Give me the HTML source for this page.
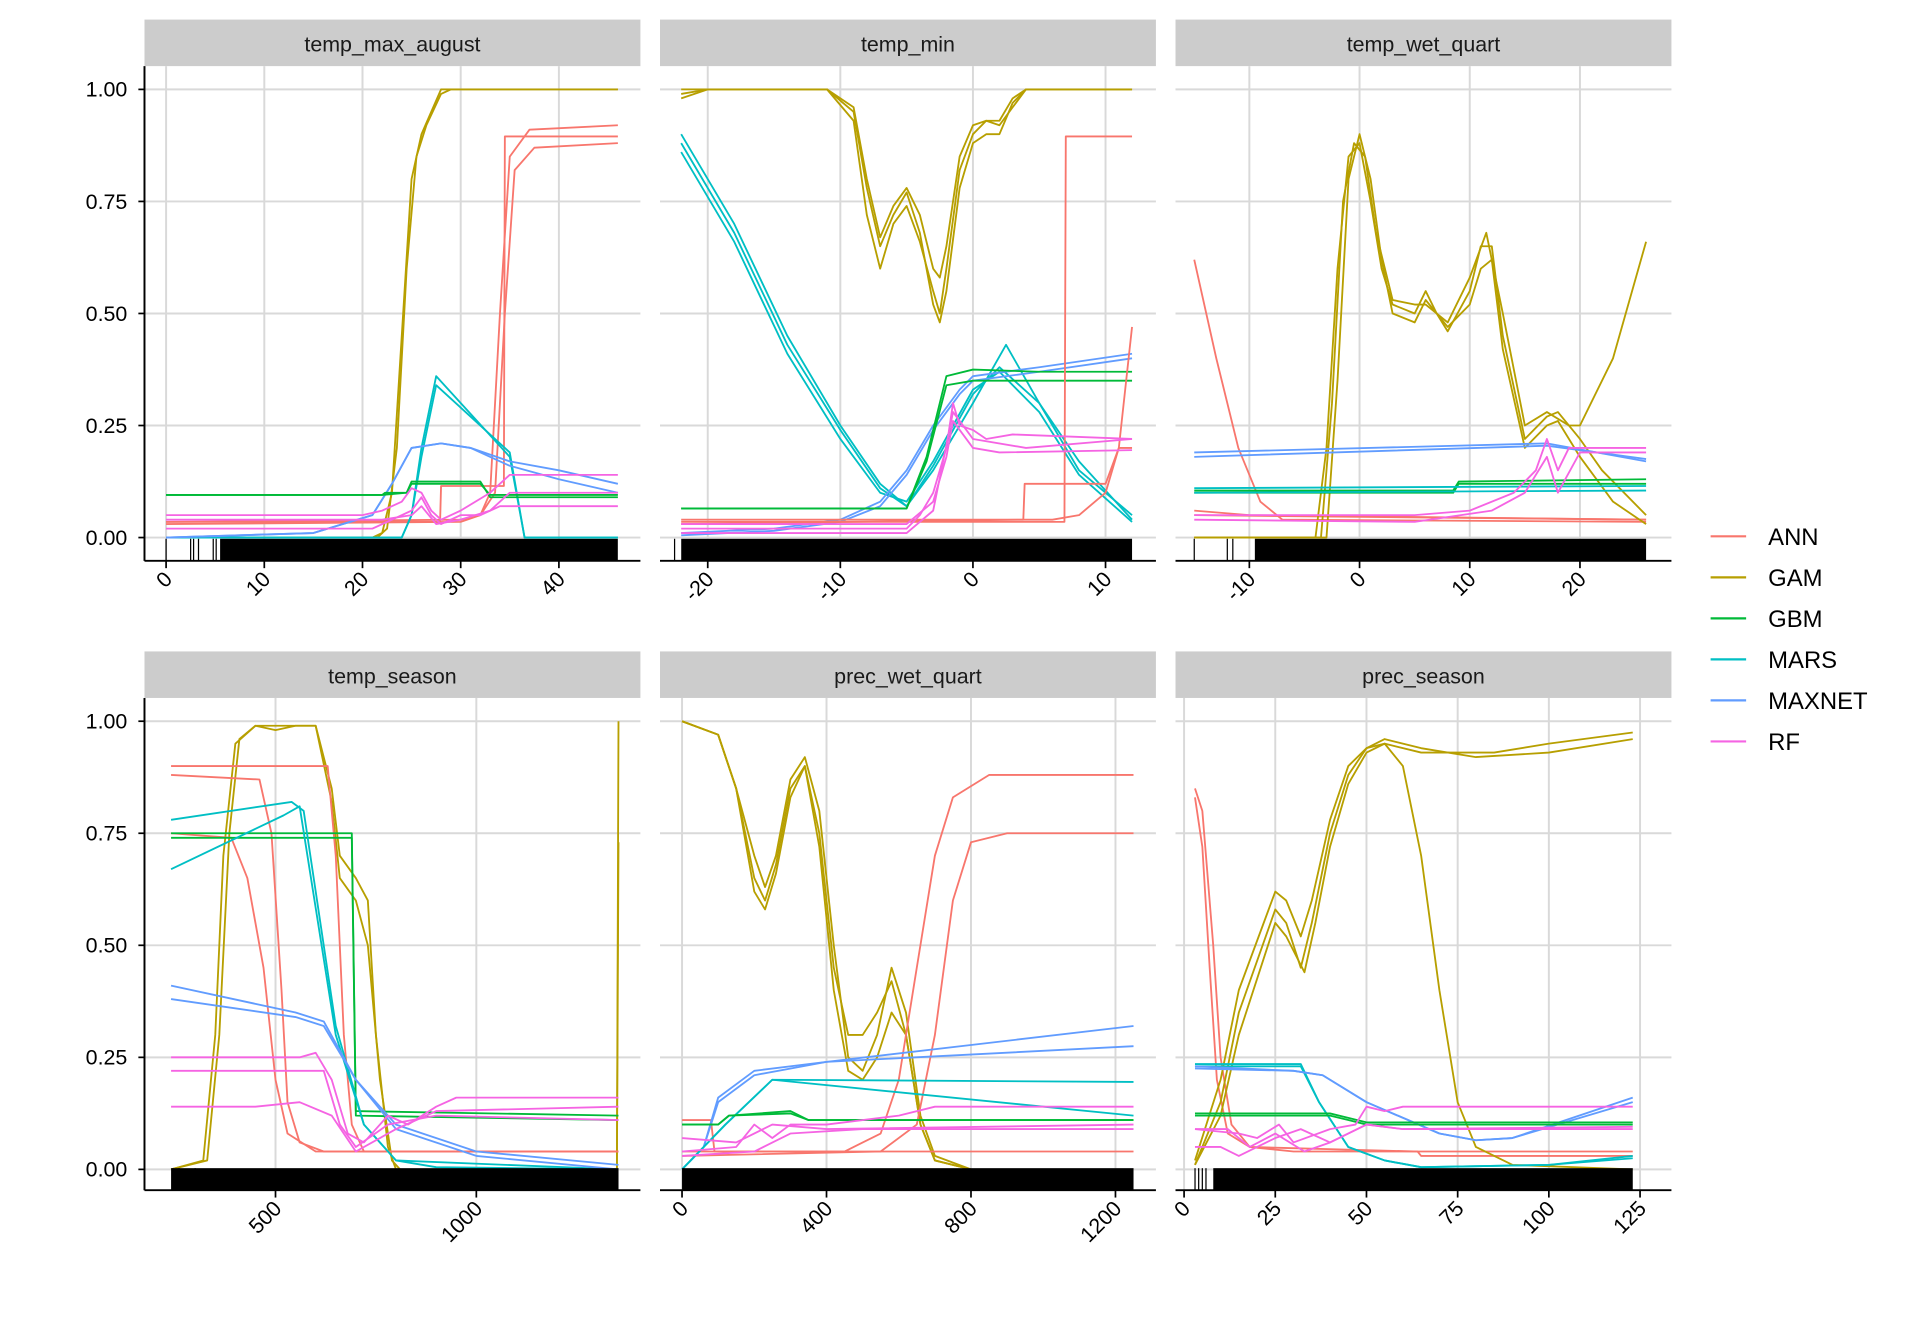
<!DOCTYPE html>
<html><head><meta charset="utf-8"><style>
html,body{margin:0;padding:0;background:#fff;}
svg{display:block;font-family:"Liberation Sans",sans-serif;}
</style></head><body>
<svg id="chart" width="1920" height="1344" viewBox="0 0 1568 1097.6" xmlns="http://www.w3.org/2000/svg"></svg>
<script>
const modelNames = ['ANN','GAM','GBM','MARS','MAXNET','RF'];
const modelColors = ['#F8766D','#B79F00','#00BA38','#00BFC4','#619CFF','#F564E3'];
const yTicks = [0,0.25,0.5,0.75,1];
const yTickLabels = ['0.00','0.25','0.50','0.75','1.00'];

const tmaxTicks=[0,10,20,30,40];
const tmaxCurves=[
 ['GAM',[[0,0],[21,0],[22,0.01],[23,0.1],[24,0.45],[25,0.8],[26,0.9],[27,0.95],[28,1],[46,1]]],
 ['GAM',[[0,0],[21.5,0],[22.5,0.02],[23.5,0.2],[24.5,0.6],[25.5,0.85],[26.5,0.92],[28,0.99],[29,1],[46,1]]],
 ['ANN',[[0,0.03],[30,0.035],[32,0.05],[33,0.1],[34,0.5],[35,0.85],[37,0.91],[46,0.92]]],
 ['ANN',[[0,0.035],[30,0.04],[32,0.05],[33.5,0.1],[34.5,0.5],[35.5,0.82],[37.5,0.87],[46,0.88]]],
 ['ANN',[[0,0.035],[27.9,0.035],[28,0.115],[34.4,0.115],[34.5,0.895],[46,0.895]]],
 ['MARS',[[0,0],[24,0],[25,0.05],[26,0.2],[27.5,0.36],[35,0.18],[36.5,0],[46,0]]],
 ['MARS',[[0,0],[24,0],[25,0.05],[26,0.18],[27.5,0.34],[35,0.19],[36.5,0],[46,0]]],
 ['MAXNET',[[0,0],[15,0.01],[21,0.05],[23,0.12],[25,0.2],[28,0.21],[31,0.2],[35,0.16],[40,0.13],[46,0.1]]],
 ['MAXNET',[[0,0],[15,0.01],[21,0.05],[23,0.12],[25,0.2],[28,0.21],[31,0.2],[35,0.17],[40,0.15],[46,0.12]]],
 ['GBM',[[0,0.095],[22,0.095],[22.3,0.1],[24.5,0.1],[25,0.125],[32,0.125],[33,0.09],[46,0.09]]],
 ['GBM',[[0,0.095],[22,0.095],[24.5,0.1],[25,0.12],[32,0.12],[33,0.095],[46,0.095]]],
 ['RF',[[0,0.05],[20,0.05],[22,0.06],[24,0.08],[25,0.11],[26,0.1],[27,0.06],[28,0.04],[30,0.06],[33,0.1],[35,0.14],[46,0.14]]],
 ['RF',[[0,0.02],[21,0.02],[23,0.04],[25,0.06],[26,0.09],[27,0.05],[28,0.03],[30,0.05],[32,0.05],[34,0.07],[36,0.07],[46,0.07]]],
 ['RF',[[0,0.04],[22,0.04],[25,0.05],[26,0.07],[27.5,0.03],[30,0.04],[33,0.06],[35,0.1],[46,0.1]]]
];
const tminTicks=[-20,-10,0,10];
const tminCurves=[
 ['GAM',[[-22,0.98],[-20,1],[-11,1],[-9,0.95],[-8,0.78],[-7,0.65],[-6,0.72],[-5,0.77],[-4,0.68],[-3,0.52],[-2.5,0.48],[-2,0.55],[-1,0.78],[0,0.88],[1,0.9],[2,0.9],[3,0.97],[4,1],[12,1]]],
 ['GAM',[[-22,0.99],[-20,1],[-11,1],[-9,0.93],[-8,0.72],[-7,0.6],[-6,0.7],[-5,0.74],[-4,0.66],[-3,0.55],[-2.5,0.5],[-2,0.6],[-1,0.82],[0,0.9],[1,0.93],[2,0.92],[3,0.96],[4,1],[12,1]]],
 ['GAM',[[-22,1],[-11,1],[-9,0.96],[-8,0.8],[-7,0.67],[-6,0.74],[-5,0.78],[-4,0.72],[-3,0.6],[-2.5,0.58],[-2,0.65],[-1,0.85],[0,0.92],[1,0.93],[2,0.93],[3,0.98],[4,1],[12,1]]],
 ['MARS',[[-22,0.9],[-18,0.7],[-14,0.45],[-10,0.25],[-7,0.12],[-5,0.07],[-3,0.15],[0,0.3],[2.5,0.43],[5,0.3],[8,0.15],[12,0.05]]],
 ['MARS',[[-22,0.88],[-18,0.68],[-14,0.43],[-10,0.24],[-7,0.11],[-5,0.07],[-3,0.16],[0,0.32],[2,0.38],[5,0.3],[8,0.17],[12,0.04]]],
 ['MARS',[[-22,0.86],[-18,0.66],[-14,0.41],[-10,0.22],[-7,0.1],[-5,0.08],[-3,0.17],[0,0.33],[2,0.37],[5,0.28],[8,0.14],[12,0.035]]],
 ['MAXNET',[[-22,0.01],[-15,0.02],[-10,0.04],[-7,0.08],[-5,0.15],[-3,0.25],[-1,0.33],[0,0.36],[5,0.38],[12,0.41]]],
 ['MAXNET',[[-22,0.005],[-15,0.015],[-10,0.035],[-7,0.07],[-5,0.14],[-3,0.24],[-1,0.32],[0,0.35],[5,0.37],[12,0.4]]],
 ['GBM',[[-22,0.065],[-5,0.065],[-3.5,0.18],[-2,0.36],[0,0.375],[5,0.37],[12,0.37]]],
 ['GBM',[[-22,0.065],[-5,0.065],[-3.5,0.17],[-2,0.34],[0,0.35],[5,0.35],[12,0.35]]],
 ['ANN',[[-22,0.035],[6.9,0.035],[7,0.895],[12,0.895]]],
 ['ANN',[[-22,0.04],[6,0.04],[8,0.05],[10,0.1],[11,0.2],[12,0.47]]],
 ['ANN',[[-22,0.03],[3.8,0.04],[3.9,0.12],[8,0.12],[10,0.12],[11,0.2],[12,0.2]]],
 ['RF',[[-22,0.02],[-5,0.02],[-4,0.05],[-3,0.1],[-2,0.2],[-1.5,0.3],[-1,0.25],[0,0.24],[1,0.22],[3,0.23],[12,0.22]]],
 ['RF',[[-22,0.03],[-5,0.03],[-3,0.08],[-2,0.18],[-1.5,0.26],[0,0.2],[2,0.19],[12,0.195]]],
 ['RF',[[-22,0.01],[-5,0.01],[-3,0.06],[-1.5,0.28],[0,0.22],[4,0.2],[12,0.22]]]
];
const twetTicks=[-10,0,10,20];
const twetCurves=[
 ['ANN',[[-15,0.62],[-13,0.4],[-11,0.2],[-9,0.08],[-7,0.04],[26,0.035]]],
 ['ANN',[[-15,0.05],[26,0.04]]],
 ['ANN',[[-15,0.06],[-10,0.05],[26,0.04]]],
 ['GAM',[[-15,0],[-4,0],[-3,0.2],[-2,0.6],[-1,0.85],[0,0.88],[1,0.75],[2,0.6],[3,0.52],[5,0.5],[6,0.55],[7,0.5],[8,0.46],[10,0.55],[11,0.65],[12,0.65],[13,0.45],[15,0.22],[17,0.27],[18,0.28],[20,0.22],[22,0.15],[26,0.05]]],
 ['GAM',[[-15,0],[-3.5,0],[-2.5,0.3],[-1.5,0.75],[-0.5,0.88],[0.5,0.85],[1.5,0.68],[3,0.53],[5,0.52],[6,0.52],[8,0.48],[10,0.58],[11.5,0.68],[13,0.5],[15,0.25],[17,0.28],[19,0.25],[20,0.25],[23,0.4],[26,0.66]]],
 ['GAM',[[-15,0],[-3,0],[-2,0.35],[-1,0.8],[0,0.9],[1,0.8],[2,0.62],[3,0.5],[5,0.48],[6,0.53],[8,0.47],[10,0.52],[11,0.6],[12,0.62],[13,0.42],[15,0.2],[17,0.25],[18,0.26],[20,0.18],[23,0.08],[26,0.03]]],
 ['MAXNET',[[-15,0.19],[17,0.21],[26,0.17]]],
 ['MAXNET',[[-15,0.18],[17,0.205],[26,0.175]]],
 ['GBM',[[-15,0.105],[8.5,0.105],[9,0.125],[26,0.13]]],
 ['GBM',[[-15,0.1],[8.5,0.1],[9,0.12],[26,0.12]]],
 ['MARS',[[-15,0.1],[26,0.105]]],
 ['MARS',[[-15,0.11],[26,0.115]]],
 ['RF',[[-15,0.05],[5,0.05],[10,0.06],[14,0.1],[16,0.15],[17,0.22],[18,0.15],[19,0.2],[26,0.2]]],
 ['RF',[[-15,0.04],[5,0.035],[12,0.06],[15,0.1],[17,0.18],[18,0.1],[20,0.19],[26,0.19]]]
];
const tseaTicks=[500,1000];
const tseaCurves=[
 ['GAM',[[240,0],[320,0.02],[350,0.3],[370,0.7],[400,0.95],[450,0.99],[500,0.98],[550,0.99],[600,0.99],[640,0.85],[660,0.7],[700,0.65],[730,0.6],[750,0.3],[780,0.05],[800,0],[1350,0],[1354,1]]],
 ['GAM',[[240,0],[330,0.02],[360,0.3],[385,0.75],[410,0.96],[450,0.99],[550,0.99],[600,0.99],[640,0.82],[660,0.65],[700,0.6],[730,0.5],[760,0.2],[790,0.02],[810,0],[1350,0],[1354,0.73]]],
 ['ANN',[[240,0.9],[630,0.9],[650,0.7],[670,0.3],[690,0.1],[720,0.04],[1354,0.04]]],
 ['ANN',[[240,0.88],[460,0.87],[490,0.75],[515,0.4],[530,0.15],[560,0.06],[620,0.04],[1354,0.04]]],
 ['ANN',[[240,0.75],[390,0.74],[430,0.65],[470,0.45],[500,0.2],[530,0.08],[600,0.04],[1354,0.04]]],
 ['GBM',[[240,0.75],[690,0.75],[700,0.13],[1354,0.12]]],
 ['GBM',[[240,0.74],[690,0.74],[700,0.12],[1354,0.11]]],
 ['MARS',[[240,0.67],[520,0.79],[560,0.81],[650,0.3],[720,0.1],[800,0.02],[900,0.005],[1354,0]]],
 ['MARS',[[240,0.78],[540,0.82],[570,0.8],[650,0.32],[720,0.1],[800,0.02],[1354,0]]],
 ['MAXNET',[[240,0.41],[550,0.35],[620,0.33],[700,0.2],[800,0.1],[1000,0.04],[1354,0.01]]],
 ['MAXNET',[[240,0.38],[550,0.34],[620,0.32],[700,0.2],[800,0.09],[1000,0.03],[1354,0]]],
 ['RF',[[240,0.25],[560,0.25],[600,0.26],[640,0.2],[680,0.08],[720,0.06],[780,0.12],[830,0.1],[900,0.14],[950,0.16],[1354,0.16]]],
 ['RF',[[240,0.22],[560,0.22],[620,0.22],[660,0.1],[700,0.05],[780,0.1],[900,0.12],[1354,0.11]]],
 ['RF',[[240,0.14],[450,0.14],[560,0.15],[640,0.12],[700,0.04],[800,0.09],[900,0.13],[1354,0.14]]]
];
const pwetTicks=[0,400,800,1200];
const pwetCurves=[
 ['GAM',[[0,1],[100,0.97],[150,0.85],[200,0.65],[230,0.6],[260,0.68],[300,0.85],[340,0.9],[380,0.75],[420,0.45],[460,0.3],[500,0.3],[540,0.35],[580,0.42],[620,0.3],[660,0.1],[700,0.02],[800,0],[1250,0]]],
 ['GAM',[[0,1],[100,0.97],[150,0.85],[200,0.7],[230,0.63],[260,0.7],[300,0.87],[340,0.92],[380,0.8],[420,0.5],[460,0.25],[500,0.22],[540,0.3],[580,0.45],[620,0.35],[660,0.12],[700,0.03],[800,0],[1250,0]]],
 ['GAM',[[0,1],[100,0.97],[150,0.85],[200,0.62],[230,0.58],[260,0.66],[300,0.83],[340,0.9],[380,0.72],[420,0.4],[460,0.22],[500,0.2],[540,0.25],[580,0.35],[620,0.3],[660,0.1],[700,0.02],[800,0],[1250,0]]],
 ['ANN',[[0,0.04],[450,0.04],[550,0.08],[600,0.2],[650,0.45],[700,0.7],[750,0.83],[850,0.88],[1250,0.88]]],
 ['ANN',[[0,0.03],[550,0.04],[650,0.1],[700,0.3],[750,0.6],[800,0.73],[900,0.75],[1250,0.75]]],
 ['ANN',[[0,0.11],[80,0.11],[90,0.04],[1250,0.04]]],
 ['MAXNET',[[0,0],[60,0.05],[100,0.16],[200,0.22],[400,0.24],[1250,0.32]]],
 ['MAXNET',[[0,0],[60,0.05],[100,0.15],[200,0.21],[400,0.24],[1250,0.275]]],
 ['MARS',[[0,0],[120,0.1],[250,0.2],[1250,0.195]]],
 ['MARS',[[0,0],[120,0.1],[250,0.2],[1250,0.12]]],
 ['GBM',[[0,0.1],[100,0.1],[130,0.12],[300,0.13],[350,0.11],[1250,0.11]]],
 ['GBM',[[0,0.1],[100,0.1],[130,0.12],[300,0.125],[350,0.11],[1250,0.11]]],
 ['RF',[[0,0.04],[150,0.05],[200,0.1],[250,0.07],[300,0.1],[400,0.1],[600,0.12],[700,0.14],[1250,0.14]]],
 ['RF',[[0,0.07],[150,0.06],[250,0.1],[400,0.09],[1250,0.1]]],
 ['RF',[[0,0.03],[200,0.04],[300,0.08],[500,0.09],[1250,0.09]]]
];
const pseaTicks=[0,25,50,75,100,125];
const pseaCurves=[
 ['ANN',[[3,0.85],[5,0.8],[8,0.5],[10,0.25],[13,0.1],[18,0.05],[30,0.04],[123,0.04]]],
 ['ANN',[[3,0.83],[5,0.72],[7,0.45],[9,0.2],[12,0.08],[18,0.05],[64,0.04],[65,0.03],[123,0.03]]],
 ['GAM',[[3,0.01],[10,0.15],[15,0.35],[25,0.58],[28,0.55],[32,0.45],[35,0.55],[40,0.75],[45,0.88],[50,0.94],[55,0.96],[65,0.94],[80,0.92],[100,0.93],[123,0.96]]],
 ['GAM',[[3,0.02],[10,0.2],[15,0.4],[25,0.62],[28,0.6],[32,0.52],[35,0.6],[40,0.78],[45,0.9],[50,0.94],[55,0.95],[65,0.93],[85,0.93],[100,0.95],[123,0.975]]],
 ['GAM',[[3,0.01],[10,0.12],[15,0.3],[25,0.55],[28,0.52],[33,0.44],[36,0.55],[40,0.72],[45,0.86],[50,0.93],[55,0.95],[60,0.9],[65,0.7],[70,0.4],[75,0.15],[80,0.05],[90,0.01],[123,0]]],
 ['MARS',[[3,0.235],[32,0.235],[37,0.15],[45,0.05],[55,0.02],[65,0.005],[100,0.01],[123,0.03]]],
 ['MARS',[[3,0.23],[32,0.23],[37,0.15],[45,0.05],[55,0.02],[65,0.005],[100,0.01],[123,0.025]]],
 ['MAXNET',[[3,0.23],[30,0.22],[38,0.21],[50,0.15],[70,0.08],[80,0.065],[90,0.07],[123,0.16]]],
 ['MAXNET',[[3,0.225],[30,0.22],[38,0.21],[50,0.15],[70,0.08],[80,0.065],[90,0.07],[123,0.15]]],
 ['GBM',[[3,0.125],[40,0.125],[45,0.115],[50,0.105],[123,0.105]]],
 ['GBM',[[3,0.12],[40,0.12],[45,0.11],[50,0.1],[123,0.1]]],
 ['RF',[[3,0.09],[15,0.08],[20,0.07],[26,0.1],[30,0.06],[40,0.09],[47,0.1],[50,0.14],[55,0.13],[60,0.14],[100,0.14],[110,0.14],[123,0.14]]],
 ['RF',[[3,0.09],[12,0.09],[18,0.05],[25,0.08],[33,0.04],[40,0.06],[50,0.1],[60,0.09],[123,0.09]]],
 ['RF',[[3,0.05],[10,0.05],[15,0.03],[25,0.07],[32,0.09],[40,0.06],[50,0.1],[60,0.09],[123,0.095]]]
];
const panelTitles=['temp_max_august','temp_min','temp_wet_quart','temp_season','prec_wet_quart','prec_season'];
const rugRanges=[[5.5,46],[-22,12],[-9.5,26],[240,1354],[0,1250],[8,123]];
const rugSparse=[[0,2.5,2.8,3.3,4.8,5.1],[-22.5],[-15,-12,-11.5],[245,260,300],[5],[3,4,5,6]];

const svg=document.getElementById('chart');
const NS='http://www.w3.org/2000/svg';
function mk(tag,attrs,parent){const e=document.createElementNS(NS,tag);for(const k in attrs)e.setAttribute(k,attrs[k]);(parent||svg).appendChild(e);return e;}

const panels=[
 {x0:118,x1:523,top:54,yAxis:458,y0px:439,y1px:73,dom:[-2.2,48.3],ticks:tmaxTicks,curves:tmaxCurves},
 {x0:539,x1:944,top:54,yAxis:458,y0px:439,y1px:73,dom:[-23.6,13.8],ticks:tminTicks,curves:tminCurves},
 {x0:960,x1:1365,top:54,yAxis:458,y0px:439,y1px:73,dom:[-16.7,28.3],ticks:twetTicks,curves:twetCurves},
 {x0:118,x1:523,top:570,yAxis:972,y0px:955,y1px:589,dom:[173.8,1408.5],ticks:tseaTicks,curves:tseaCurves},
 {x0:539,x1:944,top:570,yAxis:972,y0px:955,y1px:589,dom:[-61,1312],ticks:pwetTicks,curves:pwetCurves},
 {x0:960,x1:1365,top:570,yAxis:972,y0px:955,y1px:589,dom:[-2.35,133.6],ticks:pseaTicks,curves:pseaCurves}
];

panels.forEach((p,i)=>{
  const g=mk('g',{});
  
  
  const sx=v=>p.x0+(v-p.dom[0])/(p.dom[1]-p.dom[0])*(p.x1-p.x0);
  const sy=v=>p.y0px+(p.y1px-p.y0px)*v;
  // strip
  const st=mk('rect',{x:p.x0,y:p.top-38,width:p.x1-p.x0,height:38,fill:'#cccccc'},g);
  
  
  const stt=mk('text',{x:(p.x0+p.x1)/2,y:p.top-12,'text-anchor':'middle','font-size':'17.5',fill:'#1a1a1a'},g);
  stt.textContent=panelTitles[i];
  
  
  // grid
  yTicks.forEach(t=>{
    const l=mk('line',{x1:p.x0,x2:p.x1,y1:sy(t),y2:sy(t),stroke:'#d9d9d9','stroke-width':1.6},g);
    
    
  });
  p.ticks.forEach(t=>{
    const l=mk('line',{x1:sx(t),x2:sx(t),y1:p.top,y2:p.yAxis,stroke:'#d9d9d9','stroke-width':1.6},g);
    
    
  });
  // curves
  p.curves.forEach(c=>{
    const col=modelColors[modelNames.indexOf(c[0])];
    const d=c[1].map((pt,k)=>(k?'L':'M')+sx(pt[0]).toFixed(1)+','+sy(pt[1]).toFixed(1)).join('');
    const path=mk('path',{d:d,fill:'none',stroke:col,'stroke-width':1.5,'stroke-linejoin':'round'},g);
    
    
  });
  // rug
  const rr=rugRanges[i];
  const rug=mk('rect',{x:sx(rr[0]),y:p.yAxis-18,width:sx(rr[1])-sx(rr[0]),height:18,fill:'#000'},g);
  
  
  rugSparse[i].forEach(v=>{
    const l=mk('line',{x1:sx(v),x2:sx(v),y1:p.yAxis-18,y2:p.yAxis,stroke:'#000','stroke-width':1},g);
    
    
  });
  // x axis
  const xa=mk('line',{x1:p.x0,x2:p.x1,y1:p.yAxis,y2:p.yAxis,stroke:'#000','stroke-width':1.6},g);
  
  
  p.ticks.forEach(t=>{
    const x=sx(t);
    const tk=mk('line',{x1:x,x2:x,y1:p.yAxis,y2:p.yAxis+6,stroke:'#000','stroke-width':1.4},g);
    
    
    const tx=mk('text',{x:x+6,y:p.yAxis+16,'text-anchor':'end','font-size':'17.5',fill:'#000',transform:'rotate(-45 '+(x+6)+' '+(p.yAxis+16)+')'},g);
    tx.textContent=String(t);
    
    
  });
  if(i%3===0){
    const ya=mk('line',{x1:p.x0,x2:p.x0,y1:p.top,y2:p.yAxis,stroke:'#000','stroke-width':1.6},g);
    
    
    yTicks.forEach((t,k)=>{
      const tk=mk('line',{x1:p.x0-5,x2:p.x0,y1:sy(t),y2:sy(t),stroke:'#000','stroke-width':1.4},g);
      
      
      const tx=mk('text',{x:p.x0-14,y:sy(t)+6,'text-anchor':'end','font-size':'17.5',fill:'#000'},g);
      tx.textContent=yTickLabels[k];
      
      
    });
  }
});

// legend
const lg=mk('g',{});


modelNames.forEach((m,k)=>{
  const y=438+k*33.5;
  const e=mk('g',{},lg);
  
  
  mk('line',{x1:1397,x2:1426,y1:y,y2:y,stroke:modelColors[k],'stroke-width':1.8},e);
  const t=mk('text',{x:1444,y:y+7,'font-size':'19.5',fill:'#000'},e);
  t.textContent=m;
});
</script>
</body></html>
